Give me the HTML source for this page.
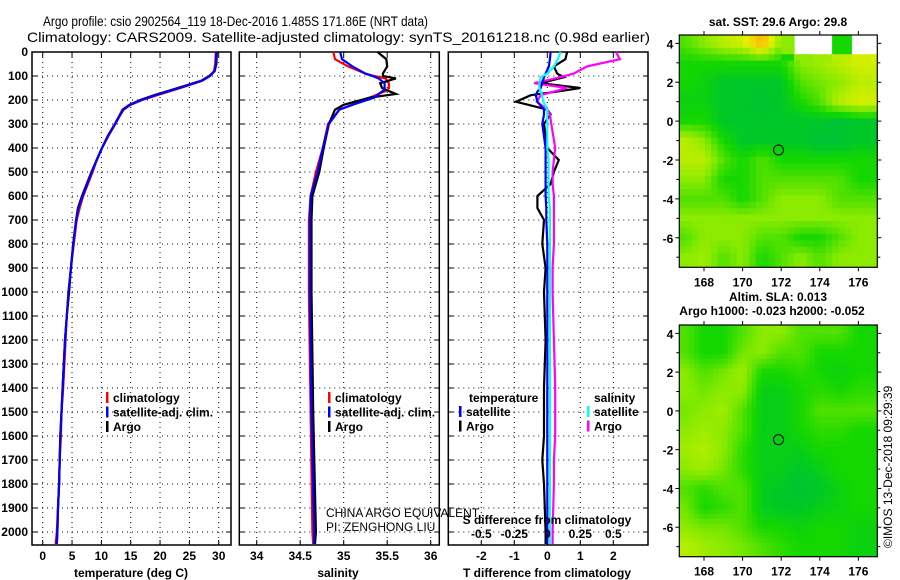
<!DOCTYPE html>
<html><head><meta charset="utf-8"><style>
html,body{margin:0;padding:0;background:#fff}
svg{display:block;font-family:"Liberation Sans",sans-serif}
.t{font-size:12px;font-weight:bold;fill:#000}
</style></head><body>
<svg id="fig" width="900" height="580" viewBox="0 0 900 580" xmlns="http://www.w3.org/2000/svg">
<rect width="900" height="580" fill="#fff"/>
<defs><clipPath id="clipTop"><rect x="679.3" y="35" width="198" height="232.3"/></clipPath>
<clipPath id="clipBot"><rect x="679.3" y="325" width="198" height="231.7"/></clipPath></defs>
<text x="43" y="26" font-size="14" textLength="385" lengthAdjust="spacingAndGlyphs">Argo profile: csio 2902564_119 18-Dec-2016 1.485S 171.86E (NRT data)</text>
<text x="27" y="42" font-size="14" textLength="623" lengthAdjust="spacingAndGlyphs">Climatology: CARS2009. Satellite-adjusted climatology: synTS_20161218.nc (0.98d earlier)</text>
<g id="g"></g>
</svg>
<script>
// ---------- data ----------
const depthT = [0,50,80,100,120,150,180,200,220,240,260,300,350,400,450,500,550,600,650,700,800,900,1000,1100,1200,1300,1400,1500,1600,1700,1800,1900,2000,2050];
const tempArgo = [29.7,29.6,29.3,28.4,27.0,23.0,19.0,16.6,14.8,13.7,13.2,12.3,11.1,10.1,9.2,8.3,7.5,6.7,6.0,5.7,5.2,4.8,4.5,4.1,3.8,3.6,3.4,3.2,3.0,2.9,2.8,2.6,2.5,2.4];
const tempClim = [29.5,29.4,29.2,28.5,27.2,23.5,19.5,17.0,15.0,13.8,13.3,12.4,11.2,10.1,9.2,8.5,7.7,6.9,6.3,5.8,5.3,4.8,4.4,4.1,3.9,3.7,3.5,3.2,3.1,2.9,2.8,2.6,2.4,2.2];
const tempSat = [29.6,29.5,29.3,28.5,27.1,23.3,19.2,16.8,14.8,13.6,13.2,12.3,11.1,10.1,9.2,8.4,7.6,6.8,6.1,5.7,5.2,4.8,4.4,4.1,3.8,3.6,3.4,3.2,3.0,2.9,2.8,2.6,2.5,2.4];
const depthS = [0,30,60,90,100,110,130,150,160,175,190,220,240,300,400,500,600,700,1000,1500,2000,2050];
const salArgo = [35.39,35.49,35.5,35.45,35.45,35.6,35.42,35.44,35.5,35.6,35.3,35.0,34.9,34.83,34.77,34.72,34.64,34.63,34.63,34.65,34.68,34.67];
const salClim = [34.88,34.9,35.05,35.25,35.35,35.48,35.52,35.52,35.5,35.4,35.3,35.1,34.95,34.82,34.76,34.68,34.62,34.6,34.6,34.62,34.64,34.65];
const salSat = [34.96,34.98,35.1,35.25,35.33,35.4,35.47,35.47,35.46,35.4,35.35,35.1,34.95,34.83,34.76,34.7,34.62,34.61,34.61,34.63,34.66,34.66];
const depthD = [0,30,60,90,105,130,150,165,180,207,240,260,300,400,450,500,550,600,650,700,800,900,1000,1200,1400,1600,1700,1800,2000,2050];
const tdiffArgo = [0.6,0.55,0.2,0.3,0.5,-0.2,1.0,0.3,-0.5,-0.95,0.0,0.1,-0.1,0.0,0.35,0.2,0.1,-0.3,-0.3,-0.1,-0.15,-0.05,-0.1,-0.05,-0.1,-0.1,-0.15,-0.1,-0.05,-0.05];
const tdiffSat = [0.1,0.08,0.05,-0.05,-0.1,-0.15,-0.2,-0.3,-0.35,-0.3,-0.1,-0.1,-0.15,-0.05,-0.05,-0.05,-0.05,-0.05,-0.03,-0.03,0,0,0,0,0,0,0,0,0,0];
const sdiffArgo = [0.52,0.55,0.3,0.2,0.1,-0.1,0.15,0.05,-0.05,-0.08,0.0,0.02,0.03,0.06,0.05,0.04,0.04,0.05,0.05,0.05,0.05,0.04,0.04,0.05,0.06,0.06,0.05,0.05,0.04,0.04];
const sdiffSat = [0.1,0.08,0.05,0.0,-0.05,-0.06,-0.06,-0.05,-0.04,-0.03,0.0,0.0,0.0,0.0,0.01,0.01,0.01,0.01,0.02,0.02,0.02,0.02,0.02,0.02,0.02,0.02,0.02,0.02,0.02,0.02];
const depthTicks = [0,100,200,300,400,500,600,700,800,900,1000,1100,1200,1300,1400,1500,1600,1700,1800,1900,2000];
const tempTicks = [0,5,10,15,20,25,30];
const salTicks = [34,34.5,35,35.5,36];
const tdTicks = [-2,-1,0,1,2];
const sdTicks = [-0.5,-0.25,0,0.25,0.5];
const sdTickLabels = ["-0.5","-0.25","0","0.25","0.5"];
const lonTicks = [168,170,172,174,176];
const latTicks = [4,2,0,-2,-4,-6];
const mapLons = [167,168,169,170,171,172,173,174,175,176];
const mapLats = [4,3,2,1,0,-1,-2,-3,-4,-5,-6,-7];
const N = null;
const sstGrid = [
[0.55,0.6,0.65,0.68,0.8,0.6,N,N,0.5,N],
[0.5,0.5,0.5,0.5,0.5,0.5,0.6,0.62,0.65,0.68],
[0.5,0.48,0.45,0.45,0.45,0.45,0.55,0.58,0.6,0.65],
[0.48,0.48,0.45,0.45,0.42,0.45,0.5,0.55,0.65,0.68],
[0.5,0.5,0.45,0.45,0.45,0.45,0.45,0.45,0.42,0.45],
[0.65,0.6,0.5,0.45,0.45,0.45,0.45,0.42,0.42,0.45],
[0.65,0.65,0.55,0.5,0.55,0.5,0.5,0.5,0.5,0.5],
[0.6,0.6,0.5,0.5,0.55,0.55,0.55,0.55,0.55,0.5],
[0.55,0.55,0.55,0.5,0.55,0.6,0.6,0.6,0.55,0.55],
[0.6,0.6,0.6,0.6,0.6,0.6,0.6,0.6,0.6,0.6],
[0.55,0.6,0.6,0.6,0.55,0.55,0.5,0.5,0.55,0.6],
[0.6,0.62,0.55,0.6,0.5,0.55,0.6,0.55,0.6,0.6]];
const slaGrid = [
[0.55,0.5,0.5,0.55,0.6,0.6,0.55,0.55,0.55,0.5],
[0.55,0.5,0.5,0.58,0.6,0.55,0.55,0.5,0.5,0.5],
[0.6,0.55,0.58,0.62,0.5,0.5,0.52,0.5,0.48,0.5],
[0.6,0.58,0.6,0.6,0.47,0.47,0.5,0.52,0.5,0.52],
[0.58,0.6,0.62,0.55,0.47,0.47,0.5,0.55,0.55,0.55],
[0.6,0.62,0.6,0.55,0.47,0.47,0.5,0.52,0.52,0.5],
[0.62,0.64,0.6,0.52,0.47,0.47,0.47,0.5,0.5,0.5],
[0.6,0.62,0.58,0.52,0.47,0.47,0.45,0.47,0.5,0.5],
[0.55,0.52,0.55,0.55,0.47,0.45,0.43,0.45,0.48,0.5],
[0.58,0.5,0.52,0.55,0.47,0.45,0.45,0.47,0.48,0.5],
[0.6,0.58,0.58,0.55,0.5,0.5,0.48,0.5,0.5,0.48],
[0.65,0.62,0.6,0.58,0.55,0.52,0.5,0.5,0.5,0.48]];
const floatLon = 171.86, floatLat = -1.485;

// ---------- helpers ----------
const NS="http://www.w3.org/2000/svg";
const G=document.getElementById('g');
function mk(tag,attrs,parent){const e=document.createElementNS(NS,tag);for(const k in attrs)e.setAttribute(k,attrs[k]);(parent||G).appendChild(e);return e;}
function txt(s,x,y,anchor,cls,parent){const e=mk('text',{x:x,y:y,'text-anchor':anchor||'start','class':cls||'t'},parent);e.textContent=s;return e;}
const top0=52, bot0=545;
const yD = d => top0 + d*0.24;
function lin(d0,d1,r0,r1){return v=>r0+(v-d0)*(r1-r0)/(d1-d0);}

function panel(name,x0,x1,xs,ticks,tickLabels,showDepth){
  const p=mk('g',{});
  
  
  ticks.forEach(t=>{const x=xs(t);mk('line',{x1:x,y1:top0,x2:x,y2:bot0,stroke:'#000','stroke-dasharray':'1 4','stroke-width':1},p);
    mk('line',{x1:x,y1:top0,x2:x,y2:top0+5,stroke:'#000'},p);mk('line',{x1:x,y1:bot0,x2:x,y2:bot0-5,stroke:'#000'},p);});
  depthTicks.forEach(d=>{const y=yD(d);mk('line',{x1:x0,y1:y,x2:x1,y2:y,stroke:'#000','stroke-dasharray':'1 4'},p);
    mk('line',{x1:x0,y1:y,x2:x0+5,y2:y,stroke:'#000'},p);mk('line',{x1:x1,y1:y,x2:x1-5,y2:y,stroke:'#000'},p);
    if(showDepth){const l=txt(String(d),28,y+4,'end','t',p);}});
  if(tickLabels) ticks.forEach((t,i)=>{const l=txt(tickLabels[i],xs(t),560,'middle','t',p);});
  mk('rect',{x:x0,y:top0,width:x1-x0,height:bot0-top0,fill:'none',stroke:'#000','stroke-width':1.5},p);
  return p;
}
function series(name,xs,depths,vals,color,p){
  const pts=depths.map((d,i)=>xs(vals[i]).toFixed(1)+','+yD(d).toFixed(1)).join(' ');
  const e=mk('polyline',{points:pts,fill:'none',stroke:color,'stroke-width':2.2,'stroke-linejoin':'miter'},p);
  
  
}
function legend(items,x,y,p){
  items.forEach((it,i)=>{const yy=y+i*14.5;
    mk('rect',{x:x,y:yy-10,width:2.5,height:11,fill:it[1]},p);
    const l=txt(it[0],x+7,yy,'start','t',p);
    
    });
}

const xT=lin(0,30,42.7,218.7);
const p1=panel('temperature-panel',32,231,xT,tempTicks,tempTicks.map(String),true);
series('temp-climatology-line',xT,depthT,tempClim,'#f00',p1);
series('temp-argo-line',xT,depthT,tempArgo,'#000',p1);
series('temp-satellite-line',xT,depthT,tempSat,'#00f',p1);
legend([['climatology','#f00'],['satellite-adj. clim.','#00f'],['Argo','#000']],106,402,p1);
txt('temperature (deg C)',131,577,'middle','t',p1);

const xS=lin(34,36,256.7,430.7);
const p2=panel('salinity-panel',239.3,439.3,xS,salTicks,['34','34.5','35','35.5','36'],false);
series('sal-climatology-line',xS,depthS,salClim,'#f00',p2);
series('sal-argo-line',xS,depthS,salArgo,'#000',p2);
series('sal-satellite-line',xS,depthS,salSat,'#00f',p2);
legend([['climatology','#f00'],['satellite-adj. clim.','#00f'],['Argo','#000']],328,402,p2);
txt('salinity',338,577,'middle','t',p2);
const c1=mk('text',{x:326,y:517,'font-size':'12',fill:'#000'},p2);c1.textContent='CHINA ARGO EQUIVALENT';


const c2=mk('text',{x:326,y:531,'font-size':'12',fill:'#000'},p2);c2.textContent='PI: ZENGHONG LIU';



const xTD=lin(0,2,547.3,613.3);
const xSD=lin(0,0.5,547.3,613.3);
const p3=panel('difference-panel',448.3,648,xTD,tdTicks,tdTicks.map(String),false);
series('tdiff-argo-line',xTD,depthD,tdiffArgo,'#000',p3);
series('sdiff-argo-line',xSD,depthD,sdiffArgo,'#f0f',p3);
series('tdiff-satellite-line',xTD,depthD,tdiffSat,'#00f',p3);
series('sdiff-satellite-line',xSD,depthD,sdiffSat,'#0ff',p3);
txt('temperature',469,402,'start','t',p3);
txt('salinity',594,402,'start','t',p3);
legend([['satellite','#00f'],['Argo','#000']],459,416,p3);
legend([['satellite','#0ff'],['Argo','#f0f']],587,416,p3);
txt('S difference from climatology',547,524,'middle','t',p3);
sdTicks.forEach((t,i)=>{const l=txt(sdTickLabels[i],xSD(t),538,'middle','t',p3);});
txt('T difference from climatology',547,577,'middle','t',p3);

// ---------- maps ----------
const stops=[[0.3,[0,150,255]],[0.4,[0,190,60]],[0.45,[0,200,40]],[0.5,[20,215,0]],[0.6,[140,235,0]],[0.7,[230,240,0]],[0.8,[255,180,0]],[0.9,[230,70,0]],[1.0,[170,0,0]]];
function cmap(v){if(v<=stops[0][0])return stops[0][1];for(let i=1;i<stops.length;i++){if(v<=stops[i][0]){const a=stops[i-1],b=stops[i],f=(v-a[0])/(b[0]-a[0]);return a[1].map((c,k)=>Math.round(c+(b[1][k]-c)*f));}}return stops[stops.length-1][1];}
function gridVal(grid,lon,lat){
  const fi=Math.max(0,Math.min(mapLats.length-1.001,(mapLats[0]-lat)));
  const fj=Math.max(0,Math.min(mapLons.length-1.001,(lon-mapLons[0])));
  const i=Math.floor(fi),j=Math.floor(fj),di=fi-i,dj=fj-j;
  const g=(a,b)=>grid[a][b];
  const v=[g(i,j),g(i,j+1),g(i+1,j),g(i+1,j+1)];
  if(v.some(x=>x===null)){return grid[i+Math.round(di)][j+Math.round(dj)];}
  return v[0]*(1-di)*(1-dj)+v[1]*(1-di)*dj+v[2]*di*(1-dj)+v[3]*di*dj;
}
function map(name,top,bottom,grid,step,clip,title1,t1y,title2,t2y){
  const left=679.3,right=877.3;
  const xs=lin(166.72,176.98,left,right);
  const ys=lin(4.43,-7.52,top,bottom);
  const m=mk('g',{});
  
  
  const cells=mk('g',{'clip-path':'url(#'+clip+')'},m);
  for(let lat=4.43;lat>-7.52;lat-=step){for(let lon=166.72;lon<176.98;lon+=step){
    const v=gridVal(grid,lon+step/2,lat-step/2);if(v===null)continue;
    const c=cmap(v);
    const r=mk('rect',{x:xs(lon).toFixed(1),y:ys(lat).toFixed(1),width:(xs(lon+step)-xs(lon)+0.6).toFixed(1),height:(ys(lat-step)-ys(lat)+0.6).toFixed(1),fill:'rgb('+c.join(',')+')'},cells);
    
    
  }}
  mk('rect',{x:left,y:top,width:right-left,height:bottom-top,fill:'none',stroke:'#000','stroke-width':1.2},m);
  lonTicks.forEach(t=>{const x=xs(t);mk('line',{x1:x,y1:top,x2:x,y2:top-4,stroke:'#000'},m);mk('line',{x1:x,y1:bottom,x2:x,y2:bottom+4,stroke:'#000'},m);
    const l=txt(String(t),x,bottom+19,'middle','t',m);});
  latTicks.forEach(t=>{const y=ys(t);mk('line',{x1:left,y1:y,x2:left-4,y2:y,stroke:'#000'},m);mk('line',{x1:right,y1:y,x2:right+4,y2:y,stroke:'#000'},m);
    const l=txt(String(t),left-6,y+5,'end','t',m);});
  [3,1,-1,-3,-5,-7].forEach(t=>{const y=ys(t);mk('line',{x1:left,y1:y,x2:left-3,y2:y,stroke:'#000'},m);mk('line',{x1:right,y1:y,x2:right+3,y2:y,stroke:'#000'},m);});
  const circ=mk('circle',{cx:xs(floatLon),cy:ys(floatLat),r:5,fill:'none',stroke:'#000','stroke-width':1},m);
  
  
  const t1=txt(title1,778,t1y,'middle','t',m);
  if(title2){const t2=txt(title2,772,t2y,'middle','t',m);}
}
map('sst-map',35,267.3,sstGrid,0.33,'clipTop','sat. SST: 29.6 Argo: 29.8',26,null,0);
map('sla-map',325,556.7,slaGrid,0.25,'clipBot','Altim. SLA: 0.013',301,'Argo h1000: -0.023 h2000: -0.052',315);
const cr=mk('text',{x:0,y:0,'font-size':'12',fill:'#000',transform:'translate(892,548) rotate(-90)'});
cr.textContent='©IMOS 13-Dec-2018 09:29:39';


</script>
</body></html>
